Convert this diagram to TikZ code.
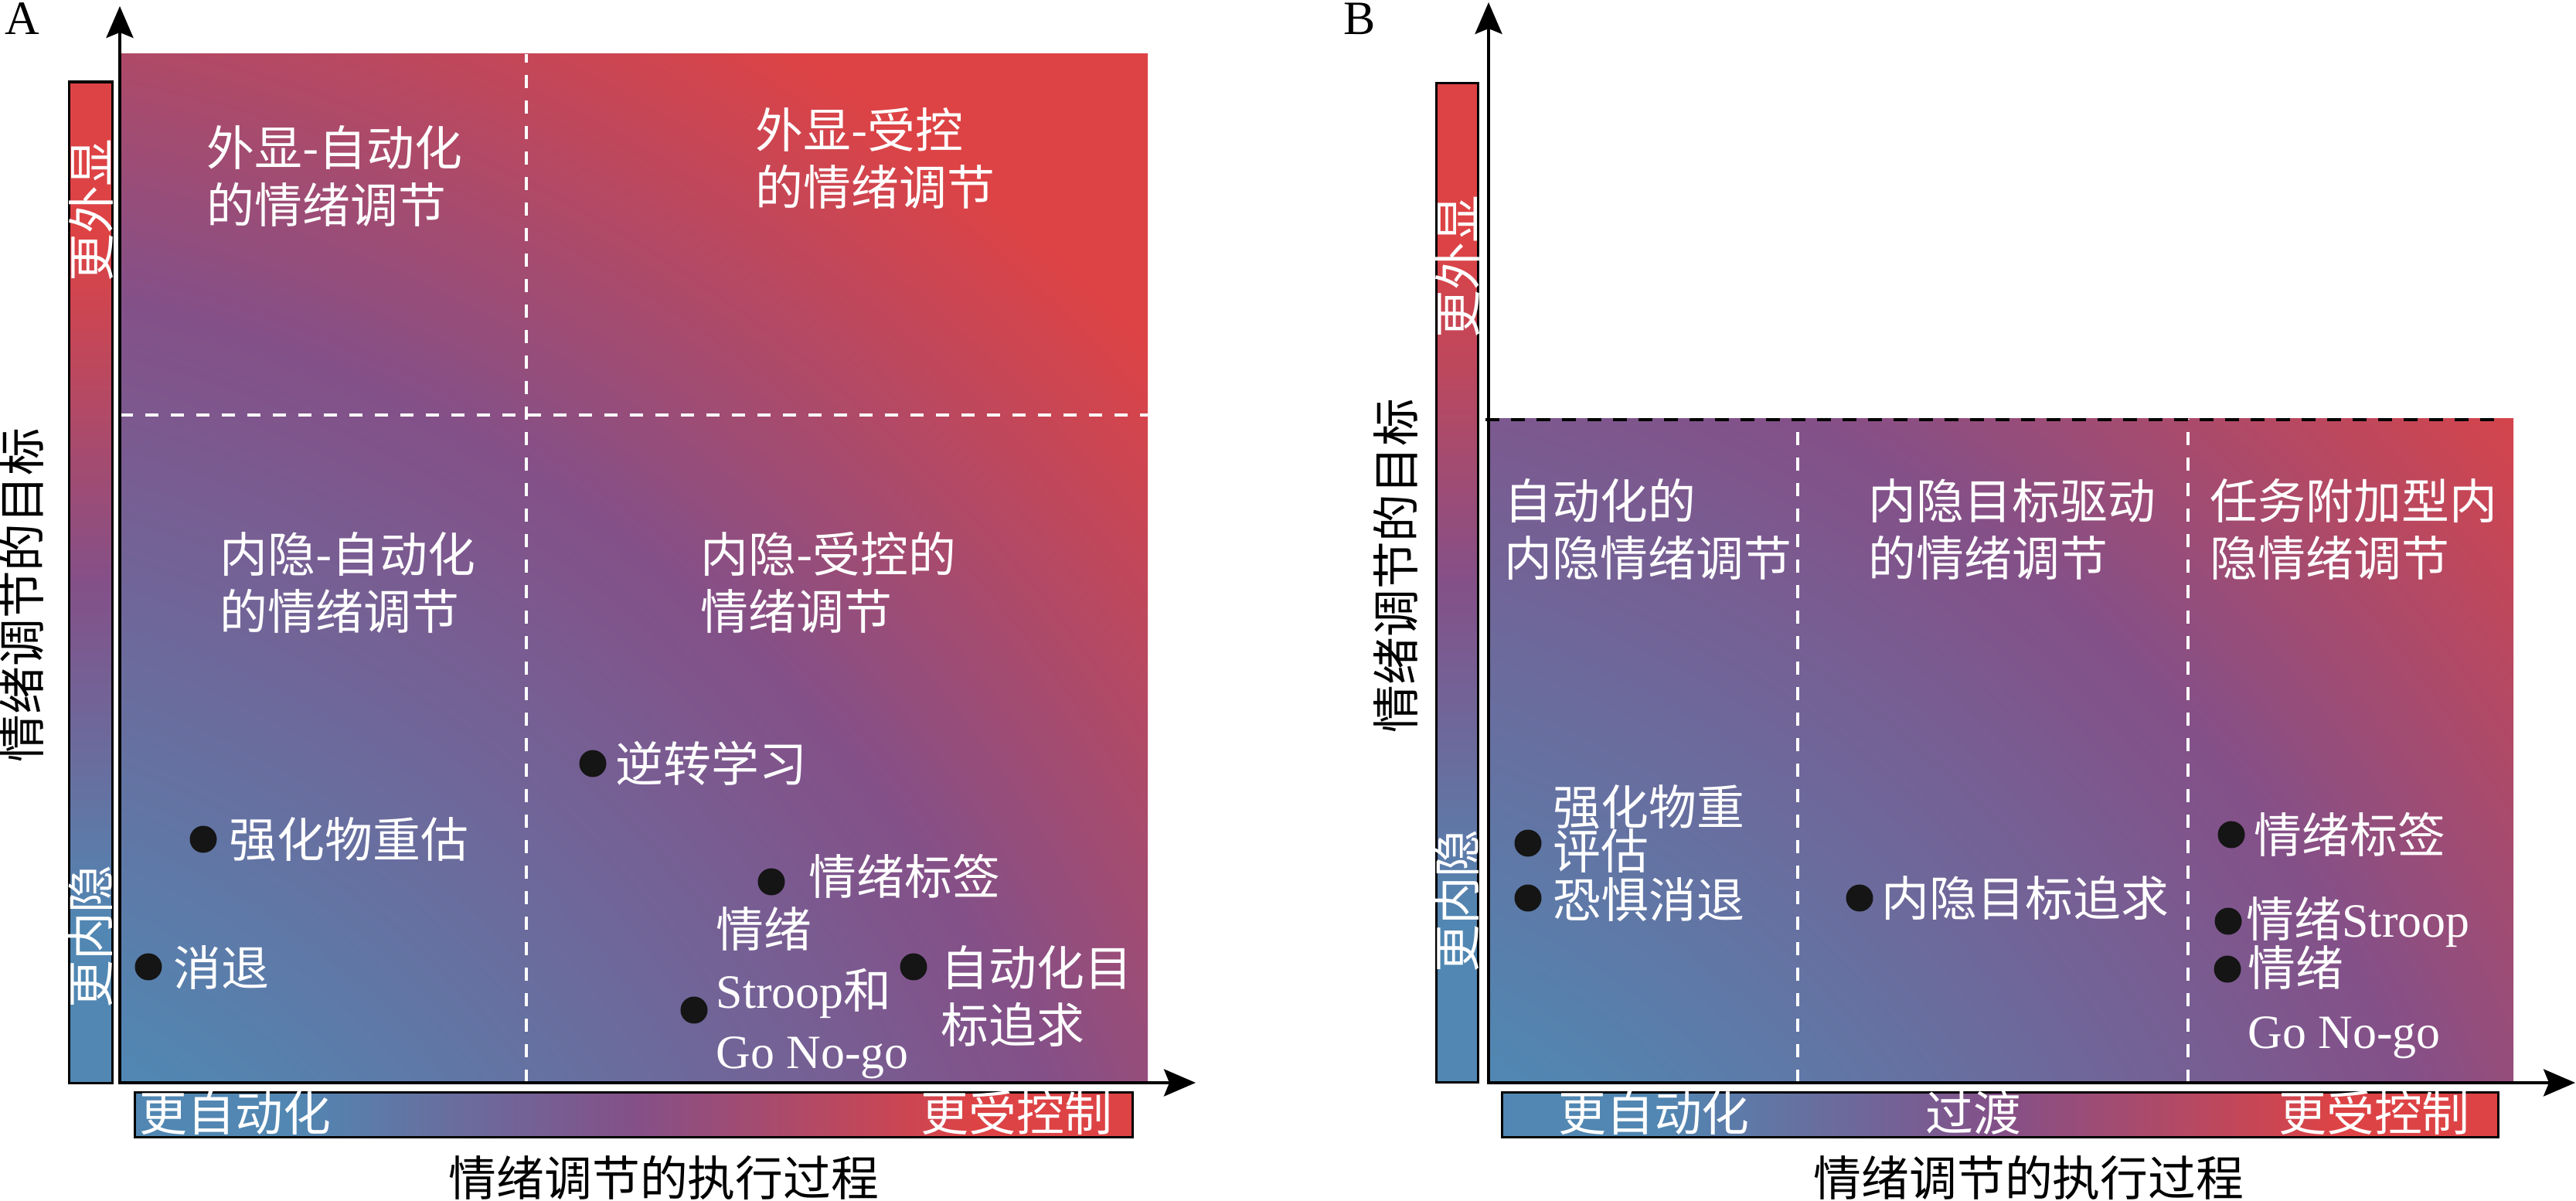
\documentclass[tikz,border=0pt]{standalone}
\usepackage{fontspec}
\setmainfont{Liberation Serif}
\newfontfamily\cjk{Noto Sans CJK SC}
\usetikzlibrary{arrows.meta,shadings}

\definecolor{cred}{RGB}{221,67,69}
\definecolor{cblue}{RGB}{81,135,178}
\definecolor{cpurple}{RGB}{132,80,136}
\definecolor{cdot}{RGB}{21,21,21}
\pgfdeclarehorizontalshading{goalshade}{100bp}{color(0bp)=(cblue); color(33bp)=(cblue); color(50bp)=(cpurple); color(67bp)=(cred); color(100bp)=(cred)}
\pgfdeclareradialshading{goalradial}{\pgfpoint{0bp}{0bp}}{color(0bp)=(cblue); color(6bp)=(cblue); color(13bp)=(cpurple); color(17.8bp)=(cred); color(50bp)=(cred)}

\begin{document}
\begin{tikzpicture}[
  txt/.style={font=\cjk\fontsize{17.6pt}{21pt}\selectfont, text=white, inner sep=0pt},
  lbl/.style={txt, anchor=west, align=left},
  axlbl/.style={font=\cjk\fontsize{17.6pt}{21pt}\selectfont, inner sep=0pt},
  itemdot/.style={circle, fill=cdot, minimum size=3.5mm, inner sep=0pt},
  axisline/.style={line width=1.1pt, {Stealth[length=4.1mm,width=3.5mm,inset=0.7mm]}-{Stealth[length=4.1mm,width=3.5mm,inset=0.7mm]}},
  scalebar/.style={shading=goalshade, draw=black, line width=0.95pt},
  quadline/.style={white, line width=1.1pt, dash pattern=on 1.7mm off 1.6mm}
]
\useasboundingbox (0,0) rectangle (33.33,15.54);

% A
\begin{scope}
\clip (1.55,1.53) rectangle (14.85,14.84);
\shade[shading=goalradial] (-35.69,-38.37) rectangle (30.81,28.13);
\end{scope}
\draw[quadline] (6.81,1.53) -- (6.81,14.84);
\draw[quadline] (1.55,10.17) -- (14.85,10.17);
\coordinate (oA) at (1.55,1.53);
\coordinate (yA) at (1.55,15.46);
\coordinate (xA) at (15.47,1.53);
\draw[axisline] (yA) -- (oA) -- (xA);
\shadedraw[scalebar, shading angle=90] (0.897,1.527) rectangle (1.453,14.48);
\shadedraw[scalebar] (1.747,0.827) rectangle (14.653,1.403);

\node[axlbl, anchor=center] (tagA) at (0.29,15.30) {\rmfamily A};
\node[axlbl, rotate=90] (ylA) at (0.28,7.84) {情绪调节的目标};
\node[axlbl] (xlA) at (8.59,0.30) {情绪调节的执行过程};
\node[txt, rotate=90] (hiA) at (1.175,12.82) {更外显};
\node[txt, rotate=90] (loA) at (1.175,3.42) {更内隐};
\node[txt, anchor=west] (autoA) at (1.80,1.14) {更自动化};
\node[txt, anchor=east] (ctrlA) at (14.40,1.14) {更受控制};

\node[lbl] (qa1) at (2.67,13.26) {外显-自动化\\的情绪调节};
\node[lbl] (qa2) at (9.77,13.49) {外显-受控\\的情绪调节};
\node[lbl] (qa3) at (2.84,8.00) {内隐-自动化\\的情绪调节};
\node[lbl] (qa4) at (9.06,8.00) {内隐-受控的\\情绪调节};

\node[itemdot] (da1) at (7.67,5.66) {};
\node[lbl] (ta1) at (7.96,5.66) {逆转学习};
\node[itemdot] (da2) at (2.63,4.68) {};
\node[lbl] (ta2) at (2.96,4.68) {强化物重估};
\node[itemdot] (da3) at (1.92,3.03) {};
\node[lbl] (ta3) at (2.24,3.02) {消退};
\node[itemdot] (da4) at (9.98,4.13) {};
\node[lbl] (ta4) at (10.46,4.20) {情绪标签};
\node[itemdot] (da5) at (8.98,2.47) {};
\node[lbl] (ta5) at (9.26,2.69) {情绪\\[1.3pt]{\rmfamily Stroop}和\\[1.3pt]{\rmfamily Go No-go}};
\node[itemdot] (da6) at (11.82,3.03) {};
\node[lbl] (ta6) at (12.17,2.65) {自动化目\\标追求};

% B
\begin{scope}
\clip (19.26,1.53) rectangle (32.52,10.12);
\shade[shading=goalradial] (-17.87,-38.25) rectangle (48.43,28.05);
\end{scope}
\draw[quadline] (23.26,1.53) -- (23.26,10.12);
\draw[quadline] (28.31,1.53) -- (28.31,10.12);
\draw[black, line width=1.1pt, dash pattern=on 1.8mm off 1.5mm] (19.22,10.11) -- (32.41,10.11);
\coordinate (oB) at (19.26,1.53);
\coordinate (yB) at (19.26,15.51);
\coordinate (xB) at (33.32,1.53);
\draw[axisline] (yB) -- (oB) -- (xB);
\shadedraw[scalebar, shading angle=90] (18.587,1.537) rectangle (19.123,14.463);
\shadedraw[scalebar] (19.437,0.827) rectangle (32.323,1.403);

\node[axlbl, anchor=center] (tagB) at (17.59,15.30) {\rmfamily B};
\node[axlbl, rotate=90] (ylB) at (18.06,8.22) {情绪调节的目标};
\node[axlbl] (xlB) at (26.25,0.30) {情绪调节的执行过程};
\node[txt, rotate=90] (hiB) at (18.855,12.09) {更外显};
\node[txt, rotate=90] (loB) at (18.855,3.88) {更内隐};
\node[txt] (autoB) at (21.40,1.14) {更自动化};
\node[txt] (midB) at (25.53,1.14) {过渡};
\node[txt] (ctrlB) at (30.72,1.14) {更受控制};

\node[lbl] (qb1) at (19.46,8.69) {自动化的\\内隐情绪调节};
\node[lbl] (qb2) at (24.17,8.69) {内隐目标驱动\\的情绪调节};
\node[lbl] (qb3) at (28.59,8.69) {任务附加型内\\隐情绪调节};

\node[itemdot] (db1) at (19.77,4.63) {};
\node[lbl] (tb1) at (20.09,4.815) {强化物重\\[-4.8pt]评估};
\node[itemdot] (db2) at (19.77,3.92) {};
\node[lbl] (tb2) at (20.09,3.90) {恐惧消退};
\node[itemdot] (db3) at (24.06,3.92) {};
\node[lbl] (tb3) at (24.34,3.92) {内隐目标追求};
\node[itemdot] (db4) at (28.87,4.74) {};
\node[lbl] (tb4) at (29.16,4.74) {情绪标签};
\node[itemdot] (db5) at (28.83,3.62) {};
\node[lbl] (tb5) at (29.06,3.61) {情绪{\rmfamily Stroop}};
\node[itemdot] (db6) at (28.82,3.00) {};
\node[lbl] (tb6) at (29.08,2.575) {情绪\\[2pt]{\rmfamily Go No-go}};
\end{tikzpicture}
\end{document}
